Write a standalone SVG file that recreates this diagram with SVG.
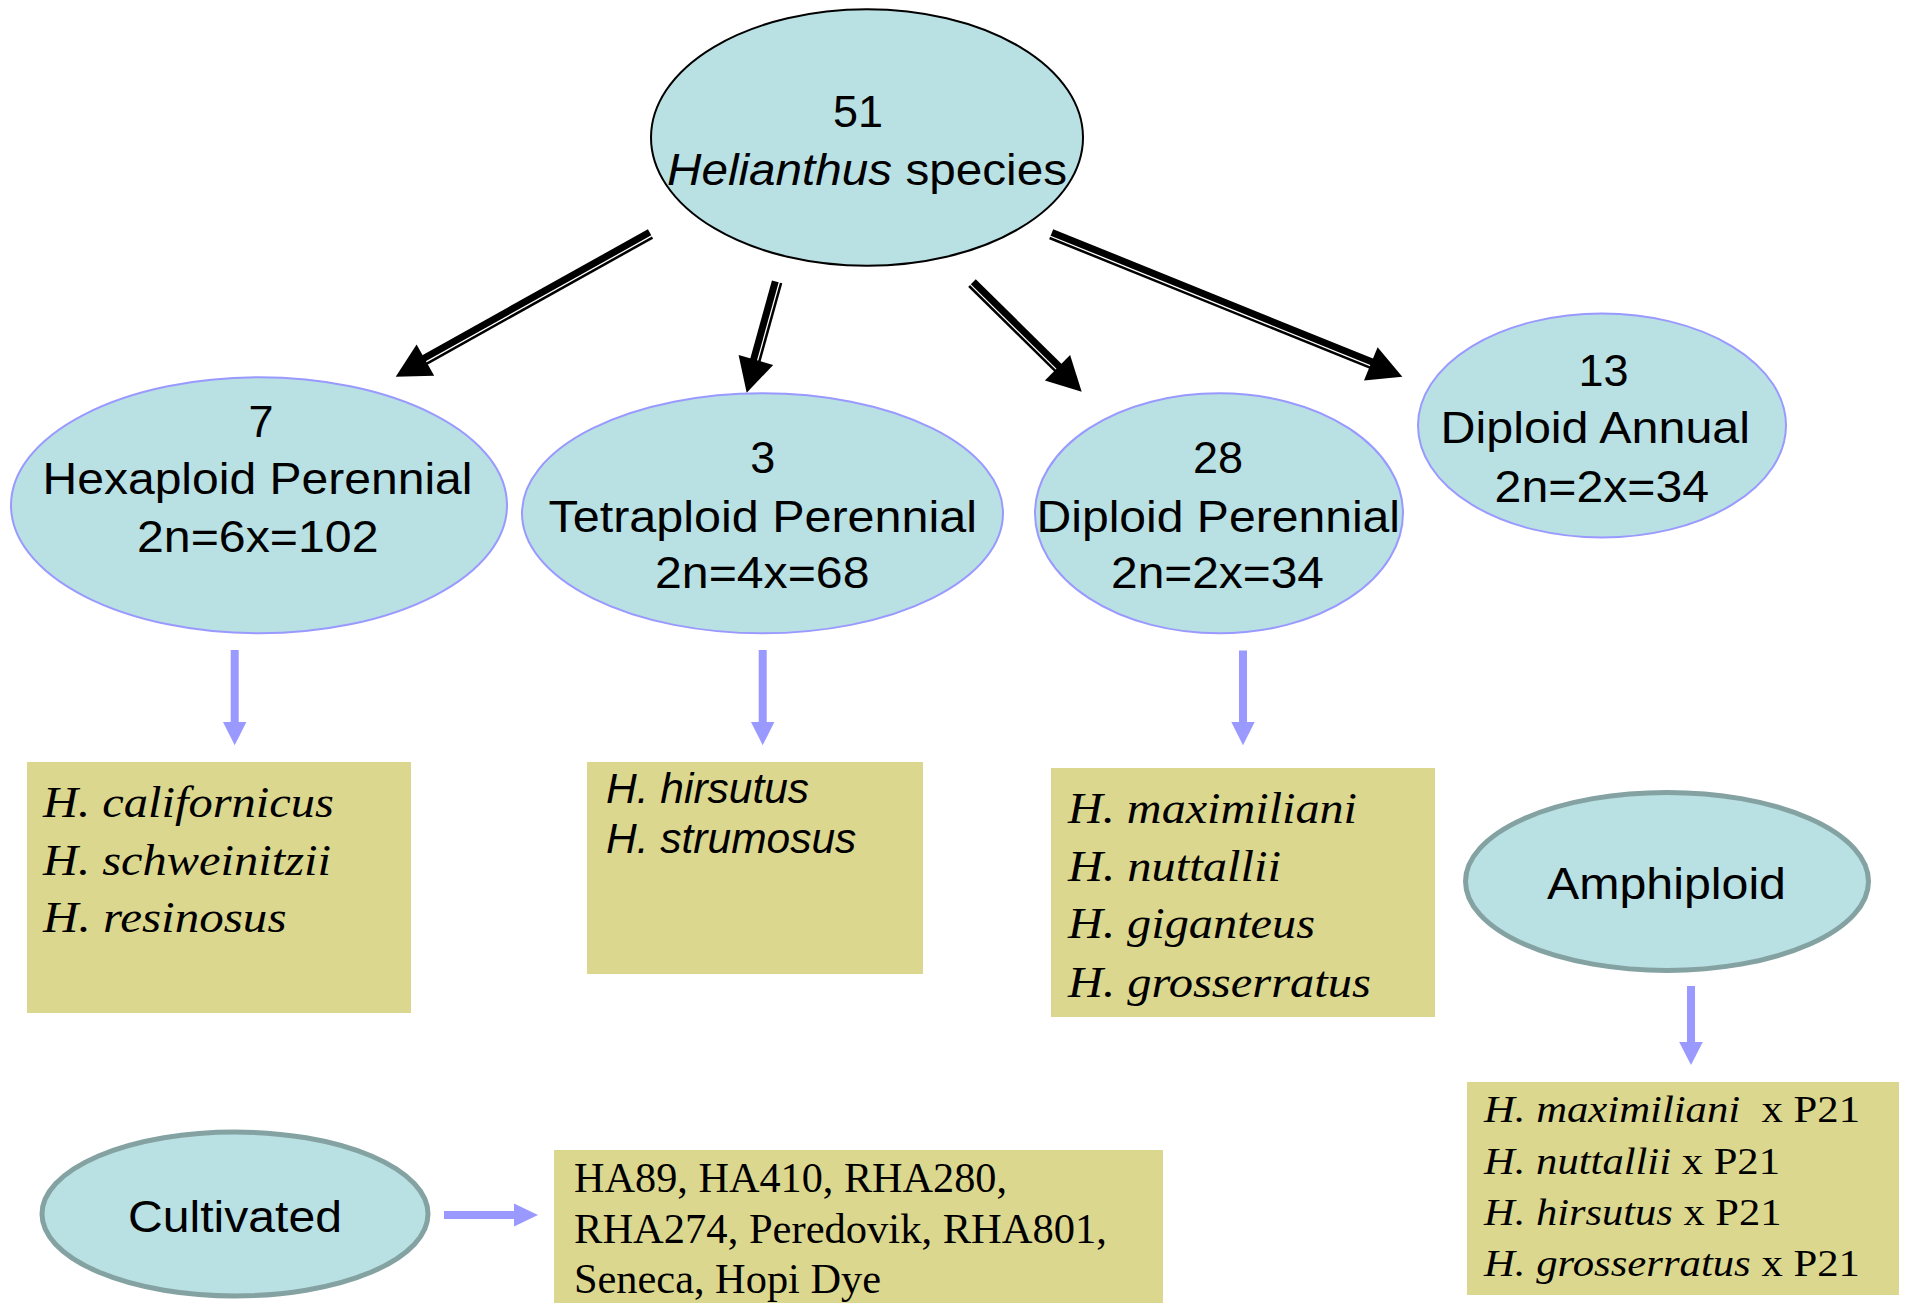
<svg xmlns="http://www.w3.org/2000/svg" width="1908" height="1303" viewBox="0 0 1908 1303">
<style>
.bg{fill:#ffffff}
.ell{fill:#b9e0e3}
.e-top{stroke:#000000;stroke-width:2}
.e-blue{stroke:#9999ff;stroke-width:2}
.e-gray{stroke:#84a2a2;stroke-width:5}
.box{fill:#dbd78f}
.sans{font-family:"Liberation Sans",Arial,sans-serif;fill:#000}
.serif{font-family:"Liberation Serif","Times New Roman",serif;fill:#000}
.big{font-size:45px}
.it{font-style:italic}
.thick{stroke:#000;stroke-width:7;fill:none}
.thin{stroke:#000;stroke-width:2.5;fill:none}
.head{fill:#000}
.pshaft{stroke:#9999ff;stroke-width:8;fill:none}
.phead{fill:#9999ff}
</style>
<rect class="bg" x="0" y="0" width="1908" height="1303"/>

<g id="connectors">
  <!-- black double arrows -->
  <g id="arrow-hexaploid">
    <line class="thick" x1="649.6" y1="232.3" x2="417.3" y2="362.0"/>
    <line class="thin" x1="652.5" y1="237.6" x2="420.2" y2="367.3"/>
    <polygon class="head" points="395.7,376.7 416.6,344.4 434.2,375.8"/>
  </g>
  <g id="arrow-tetraploid">
    <line class="thick" x1="775.3" y1="281.4" x2="751.5" y2="367.1"/>
    <line class="thin" x1="781.1" y1="283.0" x2="757.3" y2="368.7"/>
    <polygon class="head" points="746.7,392.7 738.6,355.1 773.2,364.9"/>
  </g>
  <g id="arrow-diploid-perennial">
    <line class="thick" x1="973.3" y1="281.7" x2="1064.8" y2="371.9"/>
    <line class="thin" x1="969.1" y1="286.0" x2="1060.6" y2="376.2"/>
    <polygon class="head" points="1081.7,391.7 1070.1,355 1044.9,380.6"/>
  </g>
  <g id="arrow-diploid-annual">
    <line class="thick" x1="1051.9" y1="232.4" x2="1379.1" y2="364.8"/>
    <line class="thin" x1="1049.6" y1="238.0" x2="1376.8" y2="370.4"/>
    <polygon class="head" points="1402.3,376.7 1377.6,347.2 1364.0,380.6"/>
  </g>
  <!-- purple arrows -->
  <g id="arrow-hex-box">
    <line class="pshaft" x1="234.7" y1="650" x2="234.7" y2="723"/>
    <polygon class="phead" points="223,722 246.4,722 234.7,745.3"/>
  </g>
  <g id="arrow-tetra-box">
    <line class="pshaft" x1="762.7" y1="650" x2="762.7" y2="723"/>
    <polygon class="phead" points="751,722 774.4,722 762.7,745.3"/>
  </g>
  <g id="arrow-dip-box">
    <line class="pshaft" x1="1243" y1="650.5" x2="1243" y2="723"/>
    <polygon class="phead" points="1231.3,722 1254.7,722 1243,745.3"/>
  </g>
  <g id="arrow-amph-box">
    <line class="pshaft" x1="1691" y1="986" x2="1691" y2="1043"/>
    <polygon class="phead" points="1679.2,1042 1702.8,1042 1691,1065"/>
  </g>
  <g id="arrow-cult-box">
    <line class="pshaft" x1="444" y1="1215" x2="515" y2="1215"/>
    <polygon class="phead" points="514,1203.5 514,1226.5 538,1215"/>
  </g>
</g>

<g id="node-helianthus">
  <ellipse class="ell e-top" cx="867" cy="137.5" rx="216" ry="128.3"/>
  <text class="sans big" x="858" y="127" text-anchor="middle">51</text>
  <text class="sans big" x="667" y="185" textLength="400" lengthAdjust="spacingAndGlyphs"><tspan class="it">Helianthus</tspan> species</text>
</g>

<g id="node-hexaploid">
  <ellipse class="ell e-blue" cx="259" cy="505.3" rx="248" ry="128"/>
  <text class="sans big" x="261" y="436.7" text-anchor="middle">7</text>
  <text class="sans big" x="42.5" y="494" textLength="430" lengthAdjust="spacingAndGlyphs">Hexaploid Perennial</text>
  <text class="sans big" x="137" y="551.7" textLength="241.5" lengthAdjust="spacingAndGlyphs">2n=6x=102</text>
</g>

<g id="node-tetraploid">
  <ellipse class="ell e-blue" cx="762.5" cy="513.3" rx="240.5" ry="120"/>
  <text class="sans big" x="762.8" y="473.3" text-anchor="middle">3</text>
  <text class="sans big" x="548.5" y="531.7" textLength="428.5" lengthAdjust="spacingAndGlyphs">Tetraploid Perennial</text>
  <text class="sans big" x="655" y="588.3" textLength="214.5" lengthAdjust="spacingAndGlyphs">2n=4x=68</text>
</g>

<g id="node-diploid-perennial">
  <ellipse class="ell e-blue" cx="1219" cy="513.3" rx="184" ry="120"/>
  <text class="sans big" x="1218" y="473.3" text-anchor="middle">28</text>
  <text class="sans big" x="1036.5" y="531.7" textLength="363.5" lengthAdjust="spacingAndGlyphs">Diploid Perennial</text>
  <text class="sans big" x="1111" y="588.3" textLength="213" lengthAdjust="spacingAndGlyphs">2n=2x=34</text>
</g>

<g id="node-diploid-annual">
  <ellipse class="ell e-blue" cx="1602" cy="425.5" rx="184" ry="112"/>
  <text class="sans big" x="1603.5" y="386" text-anchor="middle">13</text>
  <text class="sans big" x="1440.5" y="443.3" textLength="309.5" lengthAdjust="spacingAndGlyphs">Diploid Annual</text>
  <text class="sans big" x="1494.6" y="501.7" textLength="214.5" lengthAdjust="spacingAndGlyphs">2n=2x=34</text>
</g>

<g id="node-hexaploid-species">
  <rect class="box" x="27" y="762" width="384" height="251"/>
  <text class="serif it" font-size="45" x="43" y="817" textLength="291" lengthAdjust="spacingAndGlyphs">H. californicus</text>
  <text class="serif it" font-size="45" x="43" y="875" textLength="288" lengthAdjust="spacingAndGlyphs">H. schweinitzii</text>
  <text class="serif it" font-size="45" x="43" y="932" textLength="243.5" lengthAdjust="spacingAndGlyphs">H. resinosus</text>
</g>

<g id="node-tetraploid-species">
  <rect class="box" x="587" y="762" width="336" height="212"/>
  <text class="sans it" font-size="42.5" x="606" y="803">H. hirsutus</text>
  <text class="sans it" font-size="42.5" x="606" y="853">H. strumosus</text>
</g>

<g id="node-diploid-species">
  <rect class="box" x="1051" y="768" width="384" height="249"/>
  <text class="serif it" font-size="44.5" x="1068" y="823" textLength="289" lengthAdjust="spacingAndGlyphs">H. maximiliani</text>
  <text class="serif it" font-size="44.5" x="1068" y="881" textLength="213" lengthAdjust="spacingAndGlyphs">H. nuttallii</text>
  <text class="serif it" font-size="44.5" x="1068" y="938" textLength="247" lengthAdjust="spacingAndGlyphs">H. giganteus</text>
  <text class="serif it" font-size="44.5" x="1068" y="997" textLength="303" lengthAdjust="spacingAndGlyphs">H. grosserratus</text>
</g>

<g id="node-amphiploid">
  <ellipse class="ell e-gray" cx="1667" cy="881.4" rx="201.5" ry="89"/>
  <text class="sans" font-size="44" x="1547" y="898.8" textLength="239" lengthAdjust="spacingAndGlyphs">Amphiploid</text>
</g>

<g id="node-amphiploid-species">
  <rect class="box" x="1467" y="1082" width="432" height="213"/>
  <text class="serif" font-size="38" x="1484" y="1122" textLength="376" lengthAdjust="spacingAndGlyphs"><tspan class="it">H. maximiliani</tspan>&#160; x P21</text>
  <text class="serif" font-size="38" x="1484" y="1174" textLength="296" lengthAdjust="spacingAndGlyphs"><tspan class="it">H. nuttallii</tspan> x P21</text>
  <text class="serif" font-size="38" x="1484" y="1225" textLength="297.5" lengthAdjust="spacingAndGlyphs"><tspan class="it">H. hirsutus</tspan> x P21</text>
  <text class="serif" font-size="38" x="1484" y="1275.5" textLength="376" lengthAdjust="spacingAndGlyphs"><tspan class="it">H. grosserratus</tspan> x P21</text>
</g>

<g id="node-cultivated">
  <ellipse class="ell e-gray" cx="235" cy="1214" rx="193" ry="82"/>
  <text class="sans" font-size="45" x="128" y="1231.7" textLength="214" lengthAdjust="spacingAndGlyphs">Cultivated</text>
</g>

<g id="node-cultivated-lines">
  <rect class="box" x="554" y="1150" width="609" height="160"/>
  <text class="serif" font-size="43" x="574" y="1191.7" textLength="433" lengthAdjust="spacingAndGlyphs">HA89, HA410, RHA280,</text>
  <text class="serif" font-size="43" x="574" y="1243.3" textLength="533" lengthAdjust="spacingAndGlyphs">RHA274, Peredovik, RHA801,</text>
  <text class="serif" font-size="43" x="574" y="1293.3" textLength="307" lengthAdjust="spacingAndGlyphs">Seneca, Hopi Dye</text>
</g>
</svg>
